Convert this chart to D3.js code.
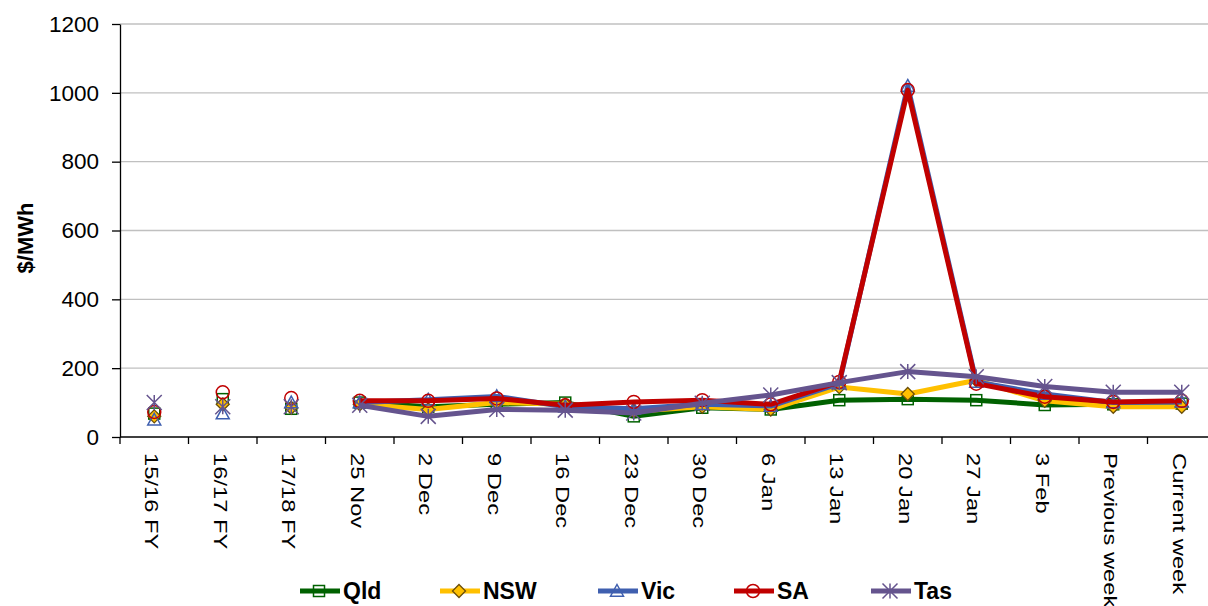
<!DOCTYPE html>
<html>
<head>
<meta charset="utf-8">
<script src="https://cdn.jsdelivr.net/npm/d3@7"></script>
<style>
  body { margin: 0; background: #fff; }
  svg { display: block; font-family: "Liberation Sans", Arial, sans-serif; }
</style>
</head>
<body>
<div id="chart"></div>
<script>
// categories along the x axis
const categories = ["15/16 FY", "16/17 FY", "17/18 FY", "25 Nov", "2 Dec", "9 Dec", "16 Dec",
    "23 Dec", "30 Dec", "6 Jan", "13 Jan", "20 Jan", "27 Jan", "3 Feb", "Previous week", "Current week"];

// weekly average prices, $/MWh
const qld = [68, 110, 82, 100, 88, 95, 100, 60, 85, 80, 107, 110, 107, 93, 95, 97];
const nsw = [60, 95, 85, 95, 80, 100, 95, 75, 88, 80, 145, 125, 165, 105, 88, 88];
const vic = [50, 68, 100, 100, 108, 118, 88, 82, 95, 90, 155, 1020, 160, 125, 100, 102];
const sa  = [73, 130, 113, 105, 105, 112, 92, 102, 107, 95, 160, 1008, 155, 117, 102, 105];
const tas = [100, 88, 88, 92, 60, 80, 78, 70, 98, 122, 158, 190, 175, 147, 130, 130];

const yTicks = [0, 200, 400, 600, 800, 1000, 1200];

// first three points are financial year averages: markers only
const lineStart = 3;

const series = [
    {name: "Qld", values: qld, color: "#006100", marker: "square"},
    {name: "NSW", values: nsw, color: "#FFC000", marker: "diamond"},
    {name: "Vic", values: vic, color: "#3F5FAF", marker: "triangle"},
    {name: "SA",  values: sa,  color: "#C00000", marker: "circle"},
    {name: "Tas", values: tas, color: "#65548E", marker: "star"}
];

const width = 1208, height = 606;
const margin = {top: 24, left: 120, bottom: 169};

const svg = d3.select("#chart").append("svg")
    .attr("width", width)
    .attr("height", height);

const x = d3.scaleBand()
    .domain(categories)
    .range([margin.left, margin.left + 68.5 * categories.length]);

const y = d3.scaleLinear()
    .domain([0, 1200])
    .range([height - margin.bottom, margin.top]);

// gridlines
svg.append("g")
    .selectAll("line")
    .data(yTicks.slice(1))
    .enter().append("line")
    .attr("x1", margin.left)
    .attr("x2", width)
    .attr("y1", d => y(d))
    .attr("y2", d => y(d))
    .attr("stroke", "#c0c0c0")
    .attr("stroke-width", 1.3);

// y axis
const yAxis = svg.append("g")
    .attr("transform", `translate(${margin.left},0)`)
    .call(d3.axisLeft(y).tickValues(yTicks).tickFormat(d3.format("d"))
        .tickSize(8).tickPadding(13).tickSizeOuter(0));
yAxis.select(".domain").attr("stroke", "#000").attr("stroke-width", 1.3);
yAxis.selectAll(".tick line").attr("stroke", "#000").attr("stroke-width", 1.3);
yAxis.selectAll("text")
    .attr("font-size", 22.5)
    .attr("fill", "#000")
    .attr("font-family", "Liberation Sans, Arial, sans-serif");

svg.append("text")
    .attr("transform", `translate(33,238) rotate(-90)`)
    .attr("text-anchor", "middle")
    .attr("font-size", 22)
    .attr("font-weight", "bold")
    .text("$/MWh");

// x axis
const x0 = y(0);
svg.append("line")
    .attr("x1", margin.left).attr("x2", width)
    .attr("y1", x0).attr("y2", x0)
    .attr("stroke", "#000").attr("stroke-width", 1.3);

svg.append("g")
    .selectAll("line")
    .data(categories)
    .enter().append("line")
    .attr("x1", d => x(d))
    .attr("x2", d => x(d))
    .attr("y1", x0)
    .attr("y2", x0 + 7)
    .attr("stroke", "#000").attr("stroke-width", 1.3);

svg.append("g")
    .selectAll("text")
    .data(categories)
    .enter().append("text")
    .attr("transform", d => `translate(${x(d) + x.bandwidth() / 2 - 3},${x0 + 16}) rotate(90) scale(1.25,1)`)
    .attr("font-size", 19)
    .attr("dominant-baseline", "central")
    .text(d => d);

const cx = i => x(categories[i]) + x.bandwidth() / 2;

function drawMarker(g, type, color, px, py) {
    if (type == "square") {
        g.append("rect")
            .attr("x", px - 5.5).attr("y", py - 5.5)
            .attr("width", 11).attr("height", 11)
            .attr("fill", "none").attr("stroke", color).attr("stroke-width", 1.5);
    } else if (type == "diamond") {
        const r = 6.5;
        g.append("path")
            .attr("d", `M${px},${py - r}L${px + r},${py}L${px},${py + r}L${px - r},${py}Z`)
            .attr("fill", color).attr("stroke", "#6b4e0a").attr("stroke-width", 1.3);
    } else if (type == "triangle") {
        const r = 6.5;
        g.append("path")
            .attr("d", `M${px},${py - r}L${px + r},${py + r * 0.8}L${px - r},${py + r * 0.8}Z`)
            .attr("fill", "none").attr("stroke", color).attr("stroke-width", 1.5);
    } else if (type == "circle") {
        g.append("circle")
            .attr("cx", px).attr("cy", py).attr("r", 6.5)
            .attr("fill", "none").attr("stroke", color).attr("stroke-width", 1.5);
    } else if (type == "star") {
        const r = 7.5;
        g.append("path")
            .attr("d", `M${px - r},${py - r}L${px + r},${py + r}M${px - r},${py + r}L${px + r},${py - r}M${px},${py - r}L${px},${py + r}`)
            .attr("fill", "none").attr("stroke", color).attr("stroke-width", 1.5);
    }
}

const line = d3.line()
    .x(d => cx(d.i))
    .y(d => y(d.v));

series.forEach(s => {
    const g = svg.append("g");
    const pts = s.values.map((v, i) => ({i: i, v: v}));
    g.append("path")
        .datum(pts.slice(lineStart))
        .attr("d", line)
        .attr("fill", "none")
        .attr("stroke", s.color)
        .attr("stroke-width", 5)
        .attr("stroke-linejoin", "round");
    pts.forEach(p => drawMarker(g, s.marker, s.color, cx(p.i), y(p.v)));
});

// legend
const legendX = [300, 440, 598, 734, 871];
const legendY = 591;
series.forEach((s, i) => {
    const g = svg.append("g");
    g.append("line")
        .attr("x1", legendX[i]).attr("x2", legendX[i] + 40)
        .attr("y1", legendY).attr("y2", legendY)
        .attr("stroke", s.color).attr("stroke-width", 5);
    drawMarker(g, s.marker, s.color, legendX[i] + 19, legendY);
    g.append("text")
        .attr("x", legendX[i] + 43)
        .attr("y", legendY)
        .attr("dominant-baseline", "central")
        .attr("font-size", 23)
        .attr("font-weight", "bold")
        .text(s.name);
});
</script>
</body>
</html>
